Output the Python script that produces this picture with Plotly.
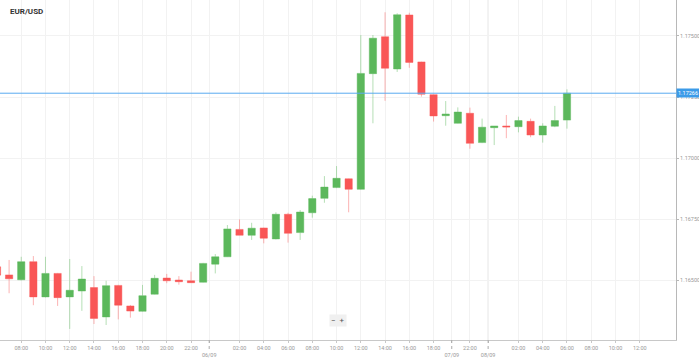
import plotly.graph_objects as go

# Hourly candles (sequential slot index)
hours = ["06:00","07:00","08:00","09:00","10:00","11:00","12:00","13:00","14:00","15:00",
         "16:00","17:00","18:00","19:00","20:00","21:00","22:00","23:00",
         "00:00","01:00","02:00","03:00","04:00","05:00","06:00","07:00","08:00","09:00",
         "10:00","11:00","12:00","13:00","14:00","15:00","16:00","17:00","18:00","19:00",
         "21:00","22:00","23:00",
         "00:00","01:00","02:00","03:00","04:00","05:00","06:00"]

open_ = [1.16556,1.16523,1.16503,1.16577,1.16433,1.16529,1.16433,1.16457,1.16471,1.16351,
         1.16480,1.16396,1.16374,1.16444,1.16510,1.16502,1.16499,1.16493,
         1.16567,1.16597,1.16709,1.16685,1.16715,1.16670,1.16771,1.16696,1.16777,1.16836,
         1.16880,1.16916,1.16873,1.17346,1.17497,1.17365,1.17586,1.17394,1.17260,1.17174,
         1.17143,1.17184,1.17064,
         1.17125,1.17132,1.17129,1.17151,1.17095,1.17131,1.17156]
high = [1.16576,1.16584,1.16597,1.16600,1.16597,1.16531,1.16588,1.16559,1.16518,1.16499,
        1.16482,1.16400,1.16482,1.16523,1.16527,1.16518,1.16536,1.16572,
        1.16608,1.16727,1.16750,1.16736,1.16716,1.16779,1.16777,1.16788,1.16847,1.16927,
        1.16968,1.16917,1.17504,1.17504,1.17597,1.17593,1.17595,1.17395,1.17261,1.17234,
        1.17208,1.17207,1.17162,
        1.17132,1.17177,1.17170,1.17162,1.17143,1.17214,1.17282]
low = [1.16502,1.16448,1.16500,1.16399,1.16431,1.16396,1.16302,1.16376,1.16322,1.16318,
       1.16341,1.16348,1.16373,1.16443,1.16489,1.16483,1.16490,1.16492,
       1.16529,1.16596,1.16685,1.16666,1.16652,1.16668,1.16655,1.16666,1.16757,1.16818,
       1.16878,1.16779,1.16872,1.17143,1.17235,1.17353,1.17370,1.17252,1.17150,1.17133,
       1.17142,1.17039,1.17062,
       1.17054,1.17082,1.17106,1.17086,1.17064,1.17127,1.17121]
close = [1.16522,1.16507,1.16577,1.16433,1.16529,1.16430,1.16460,1.16506,1.16345,1.16479,
         1.16399,1.16375,1.16438,1.16509,1.16499,1.16495,1.16491,1.16570,
         1.16597,1.16711,1.16685,1.16714,1.16673,1.16771,1.16693,1.16780,1.16835,1.16882,
         1.16918,1.16873,1.17347,1.17491,1.17368,1.17587,1.17392,1.17262,1.17173,1.17181,
         1.17189,1.17061,1.17127,
         1.17132,1.17128,1.17154,1.17095,1.17132,1.17154,1.17266]

# X-axis ticks (slot index -> label)
tick_slots = [2,4,6,8,10,12,14,16,17.5,20,22,24,26,28,30,32,34,36,37.5,39,40.5,43,45,47,49,51,53]
tick_labels = ["08:00","10:00","12:00","14:00","16:00","18:00","20:00","22:00","<br>06/09",
               "02:00","04:00","06:00","08:00","10:00","12:00","14:00","16:00","18:00","<br>07/09",
               "22:00","<br>08/09","02:00","04:00","06:00","08:00","10:00","12:00"]
date_slots = [17.5, 37.5, 40.5]

y_ticks = [1.165, 1.1675, 1.17, 1.1725, 1.175]
y_tick_labels = ["1.16500", "1.16750", "1.17000", "1.17250", "1.17500"]

green = "#5cb85c"
red = "#f95656"

x = list(range(len(open_)))
last_price = close[-1]

fig = go.Figure()
fig.add_trace(go.Candlestick(
    x=x, open=open_, high=high, low=low, close=close,
    increasing=dict(fillcolor=green, line=dict(color="rgba(92,184,92,0.45)", width=1)),
    decreasing=dict(fillcolor=red, line=dict(color="rgba(249,86,86,0.45)", width=1)),
    whiskerwidth=0, showlegend=False, hoverinfo="skip",
))

shapes = []
# darker separator for the latest day
shapes.append(dict(type="line", xref="x", yref="paper", x0=40.5, x1=40.5, y0=0, y1=1,
                   line=dict(color="#dedede", width=1), layer="below"))
# dotted date ticks under axis
for d in date_slots:
    shapes.append(dict(type="line", xref="x", yref="paper", x0=d, x1=d, y0=0, y1=-0.028,
                       line=dict(color="#aaaaaa", width=1, dash="dot")))
# current price line
shapes.append(dict(type="line", xref="paper", yref="y", x0=0, x1=1, y0=last_price, y1=last_price,
                   line=dict(color="#5aaaf0", width=1)))

annotations = [
    dict(text="<b>EUR/USD</b>", xref="paper", yref="paper", x=0.012, y=0.985,
         xanchor="left", yanchor="top", showarrow=False,
         font=dict(family="Roboto", size=8, color="#333333")),
    dict(text=f"{last_price:.5f}", xref="paper", yref="y", x=1.0, y=last_price,
         xanchor="left", yanchor="middle", showarrow=False, bgcolor="#3c9be8",
         borderpad=1, font=dict(family="Roboto", size=5.5, color="white")),
    dict(text="−  +", xref="paper", yref="paper", x=338/676, y=20/340,
         xanchor="center", yanchor="middle", showarrow=False, bgcolor="#f0f0f0",
         borderpad=1, font=dict(family="Roboto", size=8, color="#555555")),
]

fig.update_layout(
    width=699, height=359,
    margin=dict(l=0, r=23, t=0, b=19, autoexpand=False),
    paper_bgcolor="white", plot_bgcolor="white",
    boxgap=0.4, boxgroupgap=0,
    shapes=shapes, annotations=annotations,
    font=dict(family="Roboto", color="#999999"),
    xaxis=dict(
        range=[0.25, 55.99], rangeslider=dict(visible=False),
        tickmode="array", tickvals=tick_slots, ticktext=tick_labels,
        tickfont=dict(size=5.5, color="#999999"), tickangle=0, automargin=False,
        showgrid=True, gridcolor="#f2f2f2", gridwidth=1,
        showline=True, linecolor="#c8c8c8", linewidth=1,
        ticks="outside", ticklen=2, tickcolor="#c8c8c8",
        zeroline=False, fixedrange=True,
    ),
    yaxis=dict(
        side="right", range=[1.162567, 1.176472], automargin=False,
        tickmode="array", tickvals=y_ticks, ticktext=y_tick_labels,
        tickfont=dict(size=5.5, color="#999999"),
        showgrid=True, gridcolor="#f2f2f2", gridwidth=1,
        showline=True, linecolor="#b8b8b8", linewidth=1,
        ticks="outside", ticklen=2, tickcolor="#b8b8b8",
        zeroline=False,
    ),
)

fig.write_html("out.html", config={"displayModeBar": False},
               post_script="document.body.style.margin='0';document.body.style.overflow='hidden';")
